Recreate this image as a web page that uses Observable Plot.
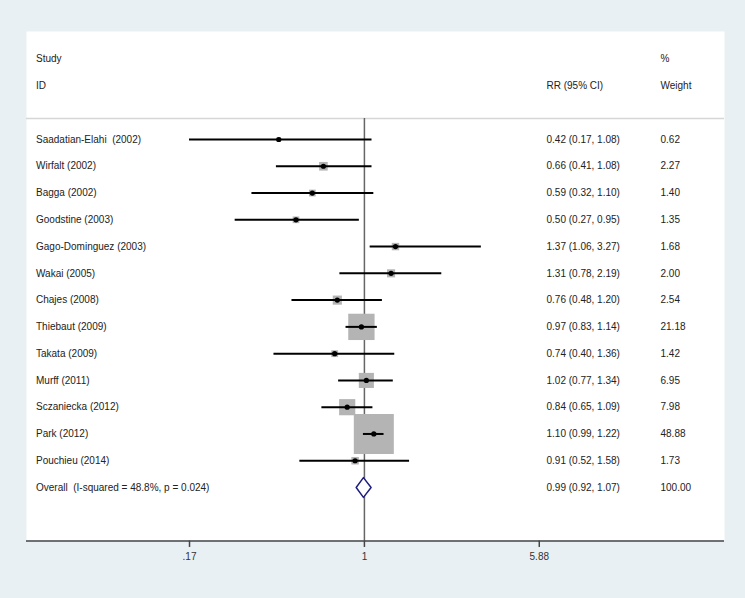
<!DOCTYPE html>
<html>
<head>
<meta charset="utf-8">
<script src="https://cdn.jsdelivr.net/npm/d3@7"></script>
<script src="https://cdn.jsdelivr.net/npm/@observablehq/plot@0.6"></script>
<style>
  html, body { margin: 0; padding: 0; background: #e9f0f3; }
</style>
</head>
<body>
<div id="chart"></div>
<script>
// ---- data ----
const studies = ["Saadatian-Elahi  (2002)", "Wirfalt (2002)", "Bagga (2002)", "Goodstine (2003)",
  "Gago-Dominguez (2003)", "Wakai (2005)", "Chajes (2008)", "Thiebaut (2009)", "Takata (2009)",
  "Murff (2011)", "Sczaniecka (2012)", "Park (2012)", "Pouchieu (2014)"];
const rr     = [0.42, 0.66, 0.59, 0.50, 1.37, 1.31, 0.76, 0.97, 0.74, 1.02, 0.84, 1.10, 0.91];
const lower  = [0.17, 0.41, 0.32, 0.27, 1.06, 0.78, 0.48, 0.83, 0.40, 0.77, 0.65, 0.99, 0.52];
const upper  = [1.08, 1.08, 1.10, 0.95, 3.27, 2.19, 1.20, 1.14, 1.36, 1.34, 1.09, 1.22, 1.58];
const weight = [0.62, 2.27, 1.40, 1.35, 1.68, 2.00, 2.54, 21.18, 1.42, 6.95, 7.98, 48.88, 1.73];

const overallLabel = "Overall  (I-squared = 48.8%, p = 0.024)";
const overallRR = 0.99, overallLo = 0.92, overallHi = 1.07, overallWeight = 100.00;

const tickValues = [0.17, 1, 5.88];
const tickLabels = [".17", "1", "5.88"];

const headerLeft  = ["Study", "ID"];
const headerRR    = "RR (95% CI)";
const headerW     = ["%", "Weight"];

// ---- derived tables ----
const fmt = v => v.toFixed(2);
const rows = studies.map((name, i) => ({
  i, name, rr: rr[i], lo: lower[i], hi: upper[i], w: weight[i],
  ci: `${fmt(rr[i])} (${fmt(lower[i])}, ${fmt(upper[i])})`, wt: fmt(weight[i])
}));
const nO = studies.length; // overall row index
const textRows = [
  ...rows,
  {i: nO, name: overallLabel, ci: `${fmt(overallRR)} (${fmt(overallLo)}, ${fmt(overallHi)})`, wt: fmt(overallWeight)}
];
const headers = [
  {i: -3, left: headerLeft[0], w: headerW[0], ci: ""},
  {i: -2, left: headerLeft[1], w: headerW[1], ci: headerRR}
];
const dh = 0.37;
const diamond = [
  {x: overallLo, y: nO}, {x: overallRR, y: nO - dh}, {x: overallHi, y: nO},
  {x: overallRR, y: nO + dh}, {x: overallLo, y: nO}
];
const sepRow = -0.78;   // thin separator under the header
const axisRow = nO + 2; // bottom axis line
const tickLen = 0.24;   // tick length in row units
const ticks = tickValues.map((v, k) => ({v, label: tickLabels[k], y1: axisRow, y2: axisRow + tickLen}));

const font = "'Liberation Sans', Arial, sans-serif";
const txt = "#222";

const chart = Plot.plot({
  width: 745,
  height: 598,
  marginLeft: 26,
  marginRight: 21,
  marginTop: 31,
  marginBottom: 58,
  style: {background: "#e9f0f3", fontFamily: font, fontSize: "10px", color: txt},
  x: {type: "log", domain: [0.0326, 38.4], axis: null},
  y: {domain: [0, nO], range: [139, 487], axis: null},
  r: {domain: [0, 48.88], range: [0, 22.57]},
  marks: [
    Plot.frame({fill: "white", stroke: null}),
    Plot.ruleY([sepRow], {stroke: "#d6d6d6", strokeWidth: 1.5}),
    Plot.ruleX([1], {y1: sepRow, y2: axisRow, stroke: "#666", strokeWidth: 1.5}),
    Plot.dot(rows, {x: "rr", y: "i", r: "w", symbol: "square", fill: "#b4b4b4", stroke: null}),
    Plot.ruleY(rows, {y: "i", x1: "lo", x2: "hi", stroke: "black", strokeWidth: 2}),
    Plot.dot(rows, {x: "rr", y: "i", r: 2.6, fill: "black", stroke: null}),
    Plot.line(diamond, {x: "x", y: "y", stroke: "#1d1d80", strokeWidth: 1.5, fill: "white", curve: "linear"}),
    Plot.ruleY([axisRow], {stroke: "#444", strokeWidth: 1.5}),
    Plot.ruleX(ticks, {x: "v", y1: "y1", y2: "y2", stroke: "#444", strokeWidth: 1.5}),
    Plot.text(ticks, {x: "v", text: "label", frameAnchor: "bottom", dy: 19, fill: "#333", fontSize: 10}),
    Plot.text(textRows, {y: "i", text: "name", frameAnchor: "left", dx: 9.5, textAnchor: "start", fill: txt}),
    Plot.text(textRows, {y: "i", text: "ci", frameAnchor: "right", dx: -178, textAnchor: "start", fill: txt}),
    Plot.text(textRows, {y: "i", text: "wt", frameAnchor: "right", dx: -64, textAnchor: "start", fill: txt}),
    Plot.text(headers, {y: "i", text: "left", frameAnchor: "left", dx: 9.5, textAnchor: "start", fill: txt}),
    Plot.text(headers, {y: "i", text: "ci", frameAnchor: "right", dx: -178, textAnchor: "start", fill: txt}),
    Plot.text(headers, {y: "i", text: "w", frameAnchor: "right", dx: -64, textAnchor: "start", fill: txt})
  ]
});
document.getElementById("chart").appendChild(chart);
</script>
</body>
</html>
